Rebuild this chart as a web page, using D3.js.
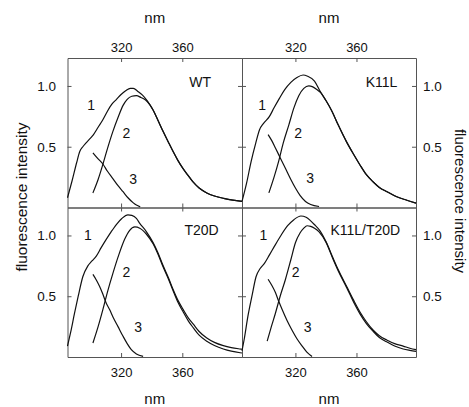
<!DOCTYPE html>
<html>
<head>
<meta charset="utf-8">
<script src="https://cdn.jsdelivr.net/npm/d3@7"></script>
<style>
  body { margin: 0; background: #fff; }
  text { font-family: "Liberation Sans", Arial, sans-serif; fill: #111; }
</style>
</head>
<body>
<svg id="chart" width="469" height="407"></svg>
<script>
// emission spectra: [wavelength nm, intensity]
const wt1 = [[285,0.08],[288,0.22],[291,0.37],[293,0.46],[295,0.50],[297,0.53],[300,0.57],[302,0.60],[305,0.66],[308,0.72],[311,0.79],[314,0.85],[317,0.89],[320,0.93],[323,0.96],[326,0.98],[328,0.98],[331,0.955],[334,0.925],[337,0.88],[341,0.80],[344,0.72],[347.5,0.625],[351,0.535],[354,0.46],[357,0.39],[360.5,0.32],[364,0.26],[367,0.21],[371,0.16],[376,0.12],[381,0.095],[387,0.075],[393,0.06],[399,0.05]];
const wt2 = [[301.6,0.12],[305,0.23],[308,0.35],[311,0.48],[314.5,0.62],[318,0.74],[321.3,0.84],[324,0.89],[327,0.915],[330,0.92],[333,0.905],[336,0.885],[341,0.80],[344,0.72],[347.5,0.625],[351,0.535],[354,0.46],[357,0.39],[360.5,0.32],[364,0.26],[367,0.21],[371,0.16],[376,0.12],[381,0.095],[387,0.075],[393,0.06],[399,0.05]];
const wt3 = [[301.6,0.45],[305,0.40],[308,0.36],[311,0.30],[314.5,0.24],[318,0.18],[321.3,0.13],[324.5,0.08],[327.8,0.04],[330,0.02],[332.5,0.005]];

const k11l1 = [[285,0.05],[288,0.20],[291,0.38],[294,0.53],[296.5,0.64],[299,0.69],[303,0.75],[306,0.82],[309.6,0.90],[313,0.97],[317,1.03],[321,1.07],[325,1.09],[328,1.08],[332.5,1.04],[336,0.96],[340,0.88],[344,0.79],[348,0.68],[353.5,0.54],[358,0.44],[362.3,0.35],[366.5,0.27],[371,0.21],[375,0.165],[380,0.13],[386,0.09],[393,0.06],[399,0.036]];
const k11l2 = [[302.6,0.12],[306,0.25],[309,0.38],[312,0.53],[315.7,0.68],[319,0.82],[322.2,0.92],[325.5,0.98],[328.8,1.0],[331,0.995],[334,0.97],[336.5,0.945],[340,0.88],[344,0.79],[348,0.68],[353.5,0.54],[358,0.44],[362.3,0.35],[366.5,0.27],[371,0.21],[375,0.165],[380,0.13],[386,0.09],[393,0.06],[399,0.036]];
const k11l3 = [[302.1,0.60],[304.5,0.55],[306.9,0.49],[310,0.41],[313.5,0.32],[317,0.23],[320,0.16],[323,0.10],[326.6,0.05],[330,0.025],[335.5,0.008]];

const t20d1 = [[285,0.09],[287,0.20],[289.6,0.36],[292,0.50],[295,0.66],[298.3,0.75],[301,0.79],[303.8,0.83],[307,0.90],[310.4,0.97],[313.5,1.03],[316.9,1.09],[320.5,1.14],[324.5,1.17],[327,1.165],[330,1.14],[332.2,1.10],[336.6,1.03],[341,0.94],[344,0.86],[347.5,0.75],[351,0.65],[354,0.555],[357,0.47],[360.6,0.39],[364,0.32],[367.2,0.27],[371,0.21],[376,0.156],[381,0.12],[386.8,0.093],[392,0.077],[397.8,0.066],[399,0.064]];
const t20d2 = [[301.6,0.115],[305,0.25],[308.1,0.39],[311,0.53],[314.7,0.69],[318.5,0.84],[322.4,0.97],[325.5,1.04],[329,1.07],[332.2,1.06],[336.6,1.01],[341,0.93],[344,0.85],[347.5,0.74],[351,0.64],[354,0.545],[357,0.455],[360.6,0.37],[364,0.295],[367.2,0.24],[371,0.18],[376,0.13],[381,0.095],[386.8,0.066],[392,0.048],[397.8,0.035],[399,0.033]];
const t20d3 = [[301.6,0.68],[304,0.63],[306,0.58],[308,0.52],[310.4,0.44],[312.5,0.39],[314.7,0.33],[318,0.25],[321.3,0.17],[324,0.11],[326.7,0.06],[330,0.025],[334.4,0.005]];

const dbl1 = [[285,0.05],[286.5,0.15],[288.8,0.33],[291.5,0.50],[294.2,0.66],[297,0.73],[299.7,0.77],[303,0.84],[306.2,0.91],[310.5,1.00],[314.9,1.08],[319,1.13],[323.6,1.16],[327,1.15],[330,1.12],[332.4,1.09],[336,1.04],[340,0.95],[344.8,0.81],[348,0.72],[353.6,0.58],[358,0.47],[362.3,0.37],[366.5,0.29],[371,0.22],[375,0.175],[379.8,0.14],[385,0.11],[390.6,0.09],[395,0.072],[399,0.06]];
const dbl2 = [[301.5,0.13],[304,0.24],[306.9,0.36],[310,0.50],[313.5,0.64],[317,0.80],[320,0.94],[323,1.02],[325.5,1.06],[327.6,1.08],[330,1.075],[332.5,1.06],[335.5,1.03],[340,0.945],[344.8,0.80],[348,0.71],[353.6,0.57],[358,0.455],[362.3,0.355],[366.5,0.275],[371,0.21],[375,0.16],[379.8,0.125],[385,0.09],[390.6,0.066],[395,0.055],[399,0.047]];
const dbl3 = [[302.1,0.64],[304.5,0.59],[306.9,0.53],[309,0.46],[311.3,0.39],[314.5,0.30],[317.8,0.22],[321,0.15],[324.4,0.09],[327.5,0.04],[330.9,0.005]];

const sampleNames = ['WT', 'K11L', 'T20D', 'K11L/T20D'];
const nmTicks = [320, 360];
const ivTicks = [0.5, 1.0];
const nmDomain = [285, 399];
const ivDomain = [0, 1.23];

// where the "1", "2", "3" and sample name sit, in data units
const numberSpots = [
  [[300.5,0.84],[323.5,0.61],[327.9,0.23]],
  [[298.2,0.84],[321.8,0.61],[329.6,0.24]],
  [[298.3,1.0],[323.5,0.70],[331.1,0.25]],
  [[299,1.0],[320.1,0.70],[328,0.25]]
];
const nameSpots = [[371.6,1.03],[376.4,1.03],[372.6,1.04],[365.8,1.04]];

const panels = [
  { col: 0, row: 0, curves: [wt1, wt2, wt3] },
  { col: 1, row: 0, curves: [k11l1, k11l2, k11l3] },
  { col: 0, row: 1, curves: [t20d1, t20d2, t20d3] },
  { col: 1, row: 1, curves: [dbl1, dbl2, dbl3] }
];

const xRanges = [[67.5, 242], [242, 416]];
const yRanges = [[207.5, 58], [357, 207.5]];
const frame = '#555';

const svg = d3.select('#chart');
const noLabel = () => '';

function styleAxis(g, size) {
  g.attr('font-family', null).attr('font-size', null);
  g.selectAll('.domain').attr('stroke', frame);
  g.selectAll('.tick line').attr('stroke', frame);
  g.selectAll('text').style('font-size', size + 'px').attr('fill', '#111');
}

panels.forEach((p, i) => {
  const x = d3.scaleLinear().domain(nmDomain).range(xRanges[p.col]);
  const y = d3.scaleLinear().domain(ivDomain).range(yRanges[p.row]);
  const [x0, x1] = x.range();
  const [yb, yt] = y.range();
  const g = svg.append('g');

  g.append('g').attr('transform', `translate(0,${yt})`)
    .call(d3.axisTop(x).tickValues(nmTicks).tickSizeInner(-4).tickSizeOuter(0).tickPadding(6)
      .tickFormat(p.row === 0 ? d3.format('d') : noLabel))
    .call(a => styleAxis(a, 13));
  g.append('g').attr('transform', `translate(0,${yb})`)
    .call(d3.axisBottom(x).tickValues(nmTicks).tickSizeInner(-4).tickSizeOuter(0).tickPadding(11)
      .tickFormat(p.row === 1 ? d3.format('d') : noLabel))
    .call(a => styleAxis(a, 13));
  g.append('g').attr('transform', `translate(${x0},0)`)
    .call(d3.axisLeft(y).tickValues(ivTicks).tickSizeInner(-4).tickSizeOuter(0).tickPadding(11.5)
      .tickFormat(p.col === 0 ? d3.format('.1f') : noLabel))
    .call(a => styleAxis(a, 13.5));
  g.append('g').attr('transform', `translate(${x1},0)`)
    .call(d3.axisRight(y).tickValues(ivTicks).tickSizeInner(-4).tickSizeOuter(0).tickPadding(7)
      .tickFormat(p.col === 1 ? d3.format('.1f') : noLabel))
    .call(a => styleAxis(a, 13.5));

  const line = d3.line()
    .x(d => x(d[0]))
    .y(d => y(d[1]))
    .curve(d3.curveMonotoneX);

  g.selectAll('path.spec')
    .data(p.curves)
    .join('path')
    .attr('class', 'spec')
    .attr('d', line)
    .attr('fill', 'none')
    .attr('stroke', '#111')
    .attr('stroke-width', 1.2);

  g.selectAll('text.num')
    .data(numberSpots[i])
    .join('text')
    .attr('class', 'num')
    .attr('x', d => x(d[0]))
    .attr('y', d => y(d[1]))
    .attr('dy', '0.35em')
    .attr('text-anchor', 'middle')
    .style('font-size', '14px')
    .text((d, k) => k + 1);

  g.append('text')
    .attr('x', x(nameSpots[i][0]))
    .attr('y', y(nameSpots[i][1]))
    .attr('dy', '0.35em')
    .attr('text-anchor', 'middle')
    .style('font-size', '14px')
    .text(sampleNames[i]);
});

// axis titles
[154.75, 329].forEach(cx => {
  svg.append('text').attr('x', cx).attr('y', 22.5).attr('text-anchor', 'middle')
    .style('font-size', '15px').text('nm');
  svg.append('text').attr('x', cx).attr('y', 404).attr('text-anchor', 'middle')
    .style('font-size', '15px').text('nm');
});

svg.append('text')
  .attr('transform', 'translate(27,197) rotate(-90)')
  .attr('text-anchor', 'middle')
  .style('font-size', '15.5px')
  .text('fluorescence intensity');

svg.append('text')
  .attr('transform', 'translate(454.5,201) rotate(90)')
  .attr('text-anchor', 'middle')
  .style('font-size', '15px')
  .text('fluorescence intensity');
</script>
</body>
</html>
